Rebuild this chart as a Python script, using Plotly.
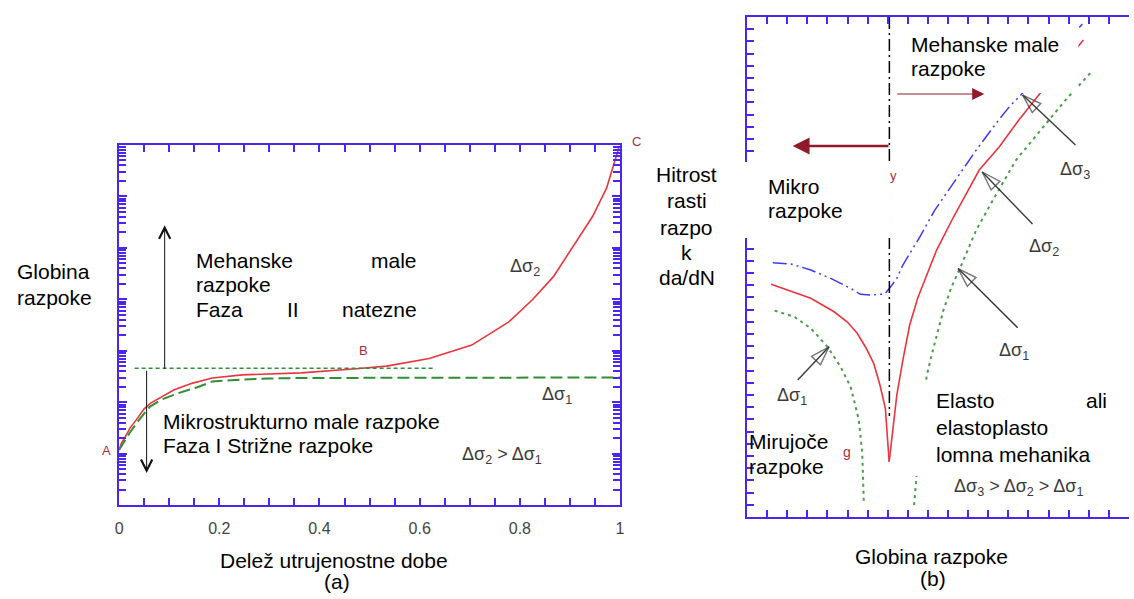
import plotly.graph_objects as go

W, H = 1134, 599
FONT = "Liberation Sans, Arial, sans-serif"
BLUE = "#4a26ee"
RED = "#e8363f"
GREEN = "#2f8f35"
GREEN_LT = "#4a9c4a"
DARK_RED = "#8e1a2a"
GREY = "#3a3a3a"
LBL = "#a3303c"

# ---------- panel (a): crack depth (log decades) vs. fraction of fatigue life ----------
life_s2 = [0, 0.005, 0.011, 0.022, 0.034, 0.05, 0.063, 0.087, 0.11, 0.147, 0.186,
           0.246, 0.305, 0.364, 0.485, 0.534, 0.619, 0.704, 0.778, 0.825, 0.867,
           0.909, 0.945, 0.973, 0.986, 0.996, 0.998]
depth_s2 = [1.07, 1.21, 1.30, 1.50, 1.65, 1.87, 1.98, 2.12, 2.24, 2.37, 2.47,
            2.53, 2.55, 2.57, 2.66, 2.70, 2.85, 3.11, 3.56, 3.99, 4.44,
            5.06, 5.61, 6.16, 6.56, 6.90, 6.98]

life_s1 = [0, 0.01, 0.021, 0.038, 0.061, 0.087, 0.12, 0.156, 0.186, 0.246,
           0.298, 0.364, 0.6, 1.0]
depth_s1 = [1.07, 1.24, 1.40, 1.63, 1.91, 2.06, 2.18, 2.29, 2.40, 2.44,
            2.46, 2.47, 2.47, 2.48]

threshold_life = [0.031, 0.63]
threshold_depth = [2.66, 2.66]

# phase arrows: (x, tail y, tip y)
phase2_arrow = (0.091, 2.62, 5.44)
phase1_arrow = (0.055, 2.64, 0.62)

x_major_a = [0, 0.2, 0.4, 0.6, 0.8, 1]
x_labels_a = ["0", "0.2", "0.4", "0.6", "0.8", "1"]
x_minor_a = [round(0.05 * i, 2) for i in range(21)]
y_major_a = list(range(8))
y_minor_a = [n + k for n in range(7) for k in
             (0.301, 0.477, 0.602, 0.699, 0.778, 0.845, 0.903, 0.954)]

# ---------- panel (b): growth rate da/dN vs. crack depth ----------
s2_left_x = [1.20, 2.17, 3.17, 4.33, 4.99, 5.48, 5.92, 6.30, 6.61, 6.88, 6.98, 7.07]
s2_left_y = [19.08, 18.53, 17.93, 16.83, 15.99, 15.06, 13.86, 12.60, 10.82, 8.91, 6.72, 4.53]
s2_right_x = [7.07, 7.26, 7.45, 7.75, 8.09, 8.49, 8.93, 9.43, 10.27, 11.55, 12.54,
              13.52, 14.51, 15.60, 16.73]
s2_right_y = [4.53, 7.13, 10.00, 12.87, 15.74, 17.96, 19.84, 21.89, 24.60, 28.45, 30.34,
              32.55, 34.60, 36.82, 39.11]

s3_x = [1.28, 2.19, 3.17, 4.16, 5.15, 5.64, 6.14, 6.86, 7.21, 7.45, 7.75, 8.11, 8.60,
        9.34, 10.25, 11.40, 12.39, 13.05, 13.62, 14.86, 16.68]
s3_y = [20.85, 20.75, 20.25, 19.57, 18.75, 18.26, 18.20, 18.29, 19.02, 19.57, 20.66,
        21.62, 22.98, 25.17, 27.36, 30.09, 32.28, 33.65, 34.60, 37.06, 40.43]

s1_left_x = [1.37, 2.35, 3.17, 4.00, 4.65, 5.15, 5.38, 5.56, 5.73, 5.81]
s1_left_y = [16.92, 16.42, 15.47, 13.96, 12.32, 10.68, 9.18, 7.95, 5.22, 1.12]
s1_right_x = [8.31, 8.41, 8.54, 8.74, 8.93, 9.18, 9.43, 9.77, 10.17, 10.66, 11.40,
              12.23, 13.38, 14.71, 15.84, 17.08, 17.18]
s1_right_y = [0.98, 3.17, 5.49, 8.77, 11.50, 13.28, 14.76, 16.97, 18.86, 20.66, 23.53,
              25.99, 29.27, 31.98, 34.19, 36.41, 36.57]

divider_x = [7.08, 7.08]
divider_y = [41.0, 8.28]

# labelled pointer arrows: (tail x, tail y, tip x, tip y)
pointer_s3 = (16.34, 30.50, 13.71, 34.60)
pointer_s2 = (14.20, 24.03, 11.70, 28.29)
pointer_s1_right = (13.46, 15.52, 10.50, 20.37)
pointer_s1_left = (2.52, 11.23, 4.08, 13.96)

# regime arrows
micro_arrow = (7.11, 30.42, 2.27, 30.42)
mech_arrow = (7.40, 34.69, 11.80, 34.69)


def px(x):
    return x / W


def py(y):
    return 1 - y / H


fig = go.Figure()

# panel (a) curves
fig.add_trace(go.Scatter(x=life_s2, y=depth_s2, mode="lines", xaxis="x", yaxis="y",
                         line=dict(color=RED, width=1.6)))
fig.add_trace(go.Scatter(x=life_s1, y=depth_s1, mode="lines", xaxis="x", yaxis="y",
                         line=dict(color=GREEN, width=2, dash="12px,5px")))
fig.add_trace(go.Scatter(x=threshold_life, y=threshold_depth, mode="lines", xaxis="x", yaxis="y",
                         line=dict(color=GREEN, width=1.5, dash="4px,3px")))

# panel (b) curves
fig.add_trace(go.Scatter(x=s3_x, y=s3_y, mode="lines", xaxis="x2", yaxis="y2",
                         line=dict(color="#3b3bf0", width=1.5, dash="14px,4px,2px,4px,2px,4px")))
fig.add_trace(go.Scatter(x=s2_left_x, y=s2_left_y, mode="lines", xaxis="x2", yaxis="y2",
                         line=dict(color=RED, width=1.6)))
fig.add_trace(go.Scatter(x=s2_right_x, y=s2_right_y, mode="lines", xaxis="x2", yaxis="y2",
                         line=dict(color=RED, width=1.6)))
fig.add_trace(go.Scatter(x=s1_left_x, y=s1_left_y, mode="lines", xaxis="x2", yaxis="y2",
                         line=dict(color=GREEN_LT, width=2, dash="3px,4px")))
fig.add_trace(go.Scatter(x=s1_right_x, y=s1_right_y, mode="lines", xaxis="x2", yaxis="y2",
                         line=dict(color=GREEN_LT, width=2, dash="3px,4px")))
fig.add_trace(go.Scatter(x=divider_x, y=divider_y, mode="lines", xaxis="x2", yaxis="y2",
                         line=dict(color="black", width=1.5, dash="12px,4px,2px,4px")))

for tx, ty, hx, hy in (pointer_s3, pointer_s2, pointer_s1_right, pointer_s1_left):
    fig.add_trace(go.Scatter(
        x=[tx, hx], y=[ty, hy], mode="lines+markers", xaxis="x2", yaxis="y2",
        line=dict(color=GREY, width=1.4),
        marker=dict(symbol="arrow-open", size=[0, 20], angleref="previous",
                    color=GREY, line=dict(color=GREY, width=1.4))))

annotations = []


def label(text, x, y, anchor="left", size=21, color="black"):
    annotations.append(dict(text=text, x=px(x), y=py(y), xref="paper", yref="paper",
                            xanchor=anchor, yanchor="middle", showarrow=False,
                            borderpad=0, font=dict(size=size, color=color, family=FONT)))


# panel (a) phase arrows
for ax_x, tail_y, tip_y in (phase2_arrow, phase1_arrow):
    annotations.append(dict(x=ax_x, y=tip_y, ax=ax_x, ay=tail_y, xref="x", yref="y",
                            axref="x", ayref="y", text="", showarrow=True,
                            arrowhead=5, arrowsize=2.2, arrowwidth=1, arrowcolor="#111"))

# panel (b) regime arrows
annotations.append(dict(x=micro_arrow[2], y=micro_arrow[3], ax=micro_arrow[0], ay=micro_arrow[1],
                        xref="x2", yref="y2", axref="x2", ayref="y2", text="", showarrow=True,
                        arrowhead=2, arrowsize=1.3, arrowwidth=2.6, arrowcolor=DARK_RED))
annotations.append(dict(x=mech_arrow[2], y=mech_arrow[3], ax=mech_arrow[0], ay=mech_arrow[1],
                        xref="x2", yref="y2", axref="x2", ayref="y2", text="", showarrow=True,
                        arrowhead=2, arrowsize=2.2, arrowwidth=1.1, arrowcolor=DARK_RED))

# panel (a) texts
label("Globina", 12, 271)
label("razpoke", 12, 297)
label("Mehanske", 193, 260)
label("male", 417, 260, anchor="right")
label("razpoke", 193, 284)
label("Faza", 193, 309)
label("II", 291, 309, anchor="center")
label("natezne", 417, 309, anchor="right")
label("Mikrostrukturno male razpoke", 159, 421)
label("Faza I Strižne razpoke", 159, 445)
label("Δσ<sub>2</sub>", 509, 267, size=18, color=GREY)
label("Δσ<sub>1</sub>", 541, 395, size=18, color=GREY)
label("Δσ<sub>2</sub> > Δσ<sub>1</sub>", 461, 455, size=18, color=GREY)
label("A", 103, 450, anchor="center", size=13, color=LBL)
label("B", 362, 350, anchor="center", size=13, color=LBL)
label("C", 638, 142, anchor="center", size=13, color=LBL)
label("Delež utrujenostne dobe", 333, 560, anchor="center")
label("(a)", 336, 581, anchor="center")

# panel (b) texts
for word, yy in (("Hitrost", 175), ("rasti", 200), ("razpo", 227), ("k", 252), ("da/dN", 278)):
    label(word, 688, yy, anchor="center")
label("Mikro", 769, 187)
label("razpoke", 769, 211)
label("Mehanske male", 913, 44)
label("razpoke", 913, 68)
label("Elasto", 938, 400)
label("ali", 1113, 400, anchor="right")
label("elastoplasto", 938, 427)
label("lomna mehanika", 938, 454)
label("Δσ<sub>3</sub> > Δσ<sub>2</sub> > Δσ<sub>1</sub>", 957, 487, size=18, color=GREY)
label("Mirujoče", 750, 441)
label("razpoke", 750, 466)
label("g", 850, 452, anchor="center", size=14, color=LBL)
label("y", 897, 176, anchor="center", size=13, color=LBL)
label("Δσ<sub>3</sub>", 1063, 171, size=18, color=GREY)
label("Δσ<sub>2</sub>", 1032, 247, size=18, color=GREY)
label("Δσ<sub>1</sub>", 1002, 351, size=18, color=GREY)
label("Δσ<sub>1</sub>", 778, 396, size=18, color=GREY)
label("Globina razpoke", 935, 556, anchor="center")
label("(b)", 936, 578, anchor="center")

# white label backgrounds that mask the lines beneath them
shapes = []
for x0, y0, x1, y1 in ((896, 24, 1083, 93), (740, 162, 894, 238), (914, 380, 1134, 476)):
    shapes.append(dict(type="rect", xref="paper", yref="paper", x0=px(x0), x1=px(x1),
                       y0=py(y1), y1=py(y0), fillcolor="white", line=dict(width=0),
                       layer="above"))

axis_common = dict(showline=True, linecolor=BLUE, linewidth=2, ticks="inside",
                   tickcolor=BLUE, tickwidth=1.5, showgrid=False, zeroline=False)

fig.update_layout(
    width=W, height=H, margin=dict(l=0, r=0, t=0, b=0),
    paper_bgcolor="white", plot_bgcolor="white", showlegend=False,
    font=dict(family=FONT),
    xaxis=dict(domain=[px(116), px(621)], range=[0, 1], anchor="y", mirror="ticks",
               tickmode="array", tickvals=x_major_a, ticktext=x_labels_a, ticklen=7,
               minor=dict(tickmode="array", tickvals=x_minor_a, ticks="inside", ticklen=7,
                          tickcolor=BLUE, tickwidth=1.5),
               tickfont=dict(size=16, color="#444"), ticklabelstandoff=8, **axis_common),
    yaxis=dict(domain=[py(505), py(145)], range=[0, 7], anchor="x", mirror="ticks",
               tickmode="array", tickvals=y_major_a, showticklabels=False, ticklen=8,
               minor=dict(tickmode="array", tickvals=y_minor_a, ticks="inside", ticklen=7,
                          tickcolor=BLUE, tickwidth=1.5),
               **axis_common),
    xaxis2=dict(domain=[px(749), 1], range=[0, 19], anchor="y2", mirror="ticks",
                tickmode="linear", tick0=0, dtick=1, ticklen=7, showticklabels=False,
                **axis_common),
    yaxis2=dict(domain=[py(517), py(17)], range=[0, 41], anchor="x2", mirror=False,
                tickmode="linear", tick0=0, dtick=1, ticklen=7, showticklabels=False,
                **axis_common),
    annotations=annotations,
    shapes=shapes,
)

fig.write_html("out.html")
